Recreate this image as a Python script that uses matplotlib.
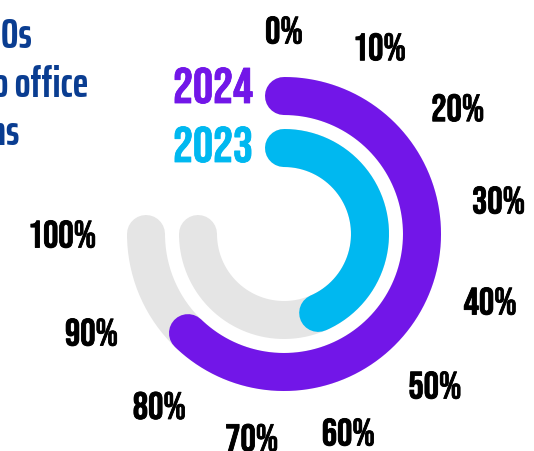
import numpy as np
import matplotlib.pyplot as plt
import matplotlib.patheffects as pe

# values (percent of a 270 degree scale)
years = ['2024', '2023']
values = [83, 58]
colors = ['#7216E8', '#00B8F0']
track_color = '#E5E5E5'
tick_values = [0, 10, 20, 30, 40, 50, 60, 70, 80, 90, 100]
tick_labels = ['%d%%' % v for v in tick_values]
title_lines = ['CEOs', 'return to office', 'plans']

SPAN = 270.0
radii = [138, 86]
NUM_FONT = ['Bebas Neue', 'DejaVu Sans']
TITLE_FONT = ['Saira ExtraCondensed', 'DejaVu Sans']


def theta(v):
  return np.deg2rad(np.asarray(v, dtype=float) / 100.0 * SPAN)


def arc(v):
  # sample the arc so the line is drawn round, not as a chord
  return theta(np.linspace(0, v, 200))


def bold(c):
  return [pe.withStroke(linewidth=0.6, foreground=c)]


W, H = 534, 451
fig = plt.figure(figsize=(W / 100, H / 100), dpi=100)
cx, cy, S = 284, 234, 240
ax = fig.add_axes([(cx - S) / W, (H - cy - S) / H, 2 * S / W, 2 * S / H],
                  projection='polar')
ax.set_theta_zero_location('N')
ax.set_theta_direction(-1)
ax.set_ylim(0, S)
ax.set_axis_off()

lw = 38 * 72 / 100.0

for r, v, c in zip(radii, values, colors):
  t = arc(100)
  ax.plot(t, np.full_like(t, r), color=track_color, lw=lw,
          solid_capstyle='round', zorder=1)
  t = arc(v)
  ax.plot(t, np.full_like(t, r), color=c, lw=lw,
          solid_capstyle='round', zorder=2)

# year labels, baselines
year_base = [103, 162]
for y, c, b in zip(years, colors, year_base):
  fig.text(253 / W, 1 - b / H, y, color=c, fontsize=36, family=NUM_FONT,
           ha='right', va='baseline', path_effects=bold(c))

for v, lab in zip(tick_values, tick_labels):
  th = float(theta(v))
  r = 204 + 4.5 * len(lab) * abs(np.sin(th))
  ax.text(th, r, lab, fontsize=27.5, family=NUM_FONT, ha='center',
          va='center', color='black', path_effects=bold('black'))

title_x = [32, 88, 20]
title_base = [48, 97, 145]
for t, x, b in zip(title_lines, title_x, title_base):
  fig.text(x / W, 1 - b / H, t, color='#0A3D91', fontsize=30,
           fontweight='bold', family=TITLE_FONT, ha='right', va='baseline')

fig.savefig('out.png', dpi=100)
